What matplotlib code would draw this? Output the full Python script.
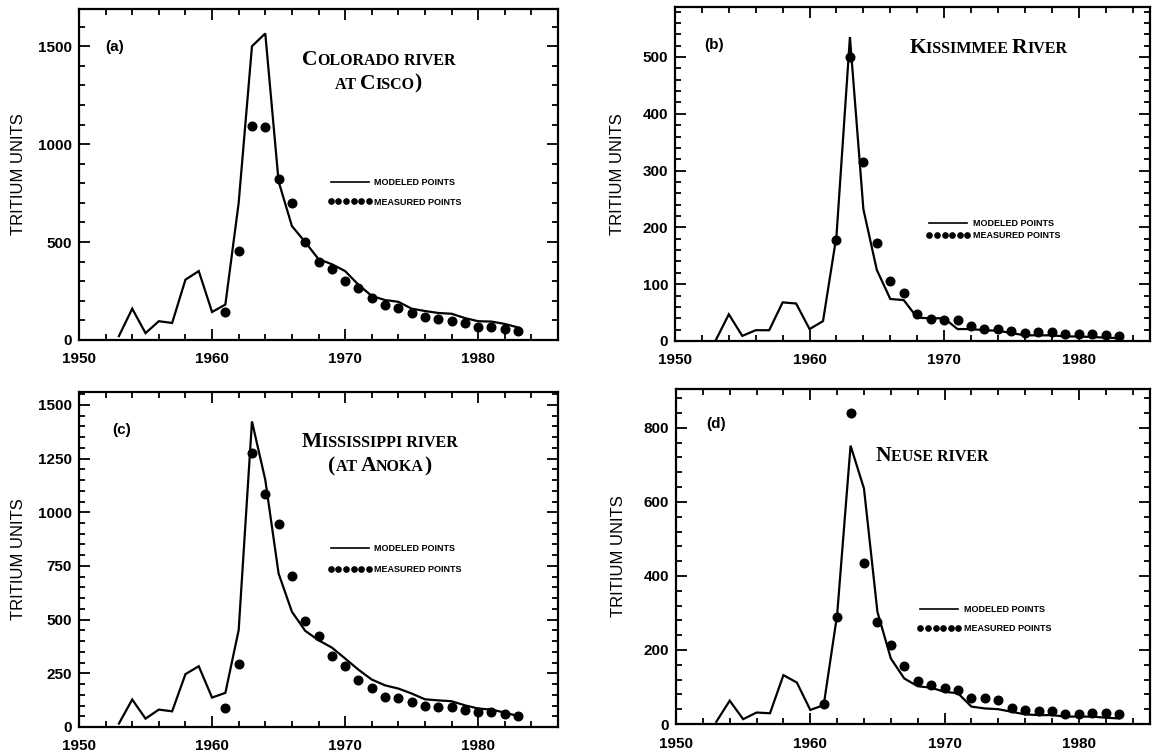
import matplotlib
matplotlib.use("Agg")
import matplotlib.pyplot as plt
from matplotlib.ticker import MultipleLocator
from matplotlib.lines import Line2D
from matplotlib.offsetbox import TextArea, HPacker, VPacker, AnchoredOffsetbox

# ---------------- data ----------------
model_years = list(range(1953, 1984))

a_model = [20, 160, 35, 96, 87, 308, 352, 143, 181, 700, 1500, 1565, 810, 582, 500, 413,
           387, 352, 282, 225, 204, 195, 160, 148, 138, 134, 112, 96, 94, 82, 64]
a_meas_years = list(range(1961, 1984))
a_meas = [145, 456, 1092, 1090, 822, 697, 500, 399, 361, 303, 268, 213, 181, 164, 138,
          117, 108, 99, 87, 68, 68, 56, 45]

b_model = [0, 47, 9, 19, 19, 68, 66, 21, 35, 185, 535, 232, 125, 74, 72, 41,
           40, 40, 21, 21, 19, 18, 14, 10, 10, 10, 8, 8, 7, 6, 5]
b_meas_years = list(range(1962, 1984))
b_meas = [178, 500, 315, 172, 106, 85, 47, 38, 37, 37, 26, 22, 21, 18, 14, 15, 15, 12,
          13, 12, 10, 9]

c_model = [16, 128, 39, 81, 73, 246, 283, 137, 159, 451, 1423, 1151, 715, 537, 448, 404,
           370, 319, 267, 221, 194, 179, 156, 129, 124, 120, 101, 86, 81, 67, 51]
c_meas_years = list(range(1961, 1984))
c_meas = [90, 295, 1278, 1085, 945, 705, 495, 426, 331, 283, 218, 182, 140, 137, 115,
          96, 93, 93, 78, 70, 70, 59, 51]

d_model = [6, 63, 13, 31, 29, 132, 112, 38, 51, 295, 752, 636, 303, 177, 123, 102,
           98, 87, 83, 47, 42, 40, 33, 26, 24, 24, 20, 20, 20, 17, 15]
d_meas_years = list(range(1961, 1984))
d_meas = [53, 289, 840, 435, 276, 213, 156, 116, 105, 96, 92, 69, 69, 65, 42, 38, 36,
          36, 27, 27, 29, 31, 26]

panel_labels = ["(a)", "(b)", "(c)", "(d)"]
titles = [
    [[("C", 1), ("OLORADO", 0), (" RIVER", 0)], [("AT ", 0), ("C", 1), ("ISCO", 0), (")", 1)]],
    [[("K", 1), ("ISSIMMEE ", 0), ("R", 1), ("IVER", 0)]],
    [[("M", 1), ("ISSISSIPPI RIVER", 0)], [("(", 1), ("AT ", 0), ("A", 1), ("NOKA", 0), (")", 1)]],
    [[("N", 1), ("EUSE RIVER", 0)]],
]
ylabel = "TRITIUM UNITS"
legend_labels = ["MODELED POINTS", "MEASURED POINTS"]

# ---------------- layout ----------------
W, H = 1152, 754
fig = plt.figure(figsize=(W / 100, H / 100), dpi=100)
plt.rcParams['font.family'] = ['Liberation Sans', 'DejaVu Sans']


def rect(l, r, t, b):
    return [l / W, (H - b) / H, (r - l) / W, (b - t) / H]


specs = [
    dict(rect=rect(79, 558, 9, 340), xlim=(1950, 1986), ylim=(0, 1690), major=500, minor=100,
         model=a_model, my=a_meas_years, meas=a_meas, title_xy=(0.625, 0.81),
         leg_xy=(0.52, 0.49), leg_sp=1.2, lab_xy=(0.075, 0.885), ylab_x=-0.11),
    dict(rect=rect(675, 1150, 7, 341), xlim=(1950, 1985.3), ylim=(0, 588), major=100, minor=20,
         model=b_model, my=b_meas_years, meas=b_meas, title_xy=(0.66, 0.877),
         leg_xy=(0.53, 0.365), leg_sp=0.35, lab_xy=(0.082, 0.887), ylab_x=-0.105),
    dict(rect=rect(79, 558, 392, 727), xlim=(1950, 1986), ylim=(0, 1560), major=250, minor=50,
         model=c_model, my=c_meas_years, meas=c_meas, title_xy=(0.628, 0.815),
         leg_xy=(0.52, 0.545), leg_sp=1.3, lab_xy=(0.088, 0.886), ylab_x=-0.11),
    dict(rect=rect(676, 1150, 389, 724), xlim=(1950, 1985.3), ylim=(0, 905), major=200, minor=40,
         model=d_model, my=d_meas_years, meas=d_meas, title_xy=(0.54, 0.80),
         leg_xy=(0.51, 0.355), leg_sp=1.1, lab_xy=(0.085, 0.895), ylab_x=-0.105),
]


def smallcaps(ax, lines, x, y, big=15.5, small=11.5):
    rows = []
    for line in lines:
        kids = [TextArea(t, textprops=dict(fontsize=big if b else small,
                                           family='Liberation Serif', fontweight='bold'))
                for t, b in line]
        rows.append(HPacker(children=kids, align='baseline', pad=0, sep=0))
    box = VPacker(children=rows, align='center', pad=0, sep=3)
    ab = AnchoredOffsetbox(loc='center', child=box, bbox_to_anchor=(x, y),
                           bbox_transform=ax.transAxes, frameon=False, pad=0, borderpad=0)
    ax.add_artist(ab)


for i, s in enumerate(specs):
    ax = fig.add_axes(s['rect'])
    ax.plot(model_years, s['model'], color='black', lw=1.6, solid_joinstyle='miter')
    ax.plot(s['my'], s['meas'], 'o', color='black', ms=6.2, mec='black')
    ax.set_xlim(*s['xlim'])
    ax.set_ylim(*s['ylim'])
    ax.xaxis.set_major_locator(MultipleLocator(10))
    ax.xaxis.set_minor_locator(MultipleLocator(2))
    ax.yaxis.set_major_locator(MultipleLocator(s['major']))
    ax.yaxis.set_minor_locator(MultipleLocator(s['minor']))
    ax.tick_params(which='both', direction='in', top=True, right=True, width=1.3,
                   labelsize=11)
    ax.tick_params(which='major', length=8)
    ax.tick_params(which='minor', length=4)
    ax.tick_params(axis='x', which='major', pad=9)
    ax.tick_params(axis='y', which='major', pad=5)
    for lbl in ax.get_xticklabels() + ax.get_yticklabels():
        lbl.set_fontweight('bold')
    for sp in ax.spines.values():
        sp.set_linewidth(1.6)
    ax.set_ylabel(ylabel, fontsize=12)
    ax.yaxis.set_label_coords(s['ylab_x'], 0.5)

    ax.text(*s['lab_xy'], panel_labels[i], transform=ax.transAxes, fontsize=11,
            fontweight='bold', ha='center', va='center')
    smallcaps(ax, titles[i], *s['title_xy'])

    handles = [Line2D([], [], color='black', lw=1.2),
               Line2D([], [], color='black', ls='none', marker='o', ms=3.8)]
    ax.legend(handles, legend_labels, loc='upper left', bbox_to_anchor=s['leg_xy'],
              frameon=False, numpoints=6, handlelength=4.8, handletextpad=0.3,
              labelspacing=s['leg_sp'], prop=dict(size=6.5, weight='bold'),
              borderpad=0, borderaxespad=0)

fig.savefig("out.png", dpi=100, facecolor='white')
